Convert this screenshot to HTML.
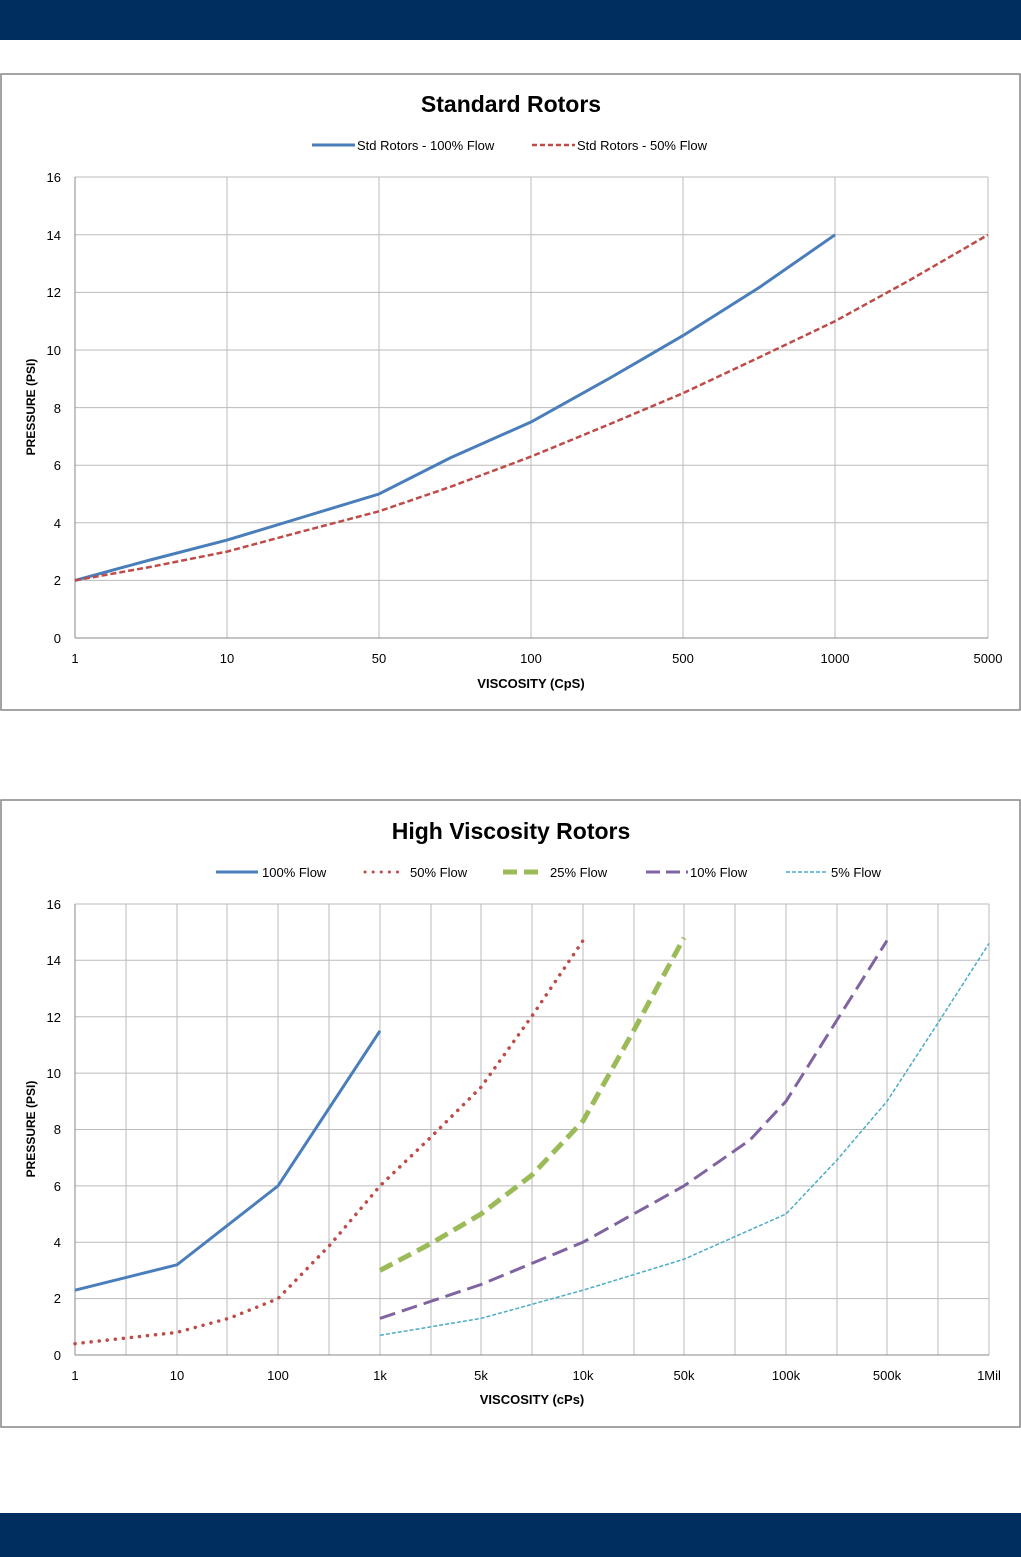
<!DOCTYPE html><html><head><style>body{margin:0;background:#fff}svg{display:block;font-family:"Liberation Sans",sans-serif}</style></head><body>
<svg width="1021" height="1557" viewBox="0 0 1021 1557" xmlns="http://www.w3.org/2000/svg">
<rect x="0" y="0" width="1021" height="40" fill="#002f5f"/>
<rect x="0" y="1513" width="1021" height="44" fill="#002f5f"/>
<rect x="1" y="74" width="1019" height="636" fill="#fff" stroke="#868686" stroke-width="1.5"/>
<rect x="1" y="800" width="1019" height="627" fill="#fff" stroke="#868686" stroke-width="1.5"/>
<g font-size="13" fill="#000">
<text x="511" y="112" text-anchor="middle" font-size="23" font-weight="bold">Standard Rotors</text>
<line x1="312" y1="145" x2="355" y2="145" stroke="#4a7ebb" stroke-width="3"/><text x="357" y="150">Std Rotors - 100% Flow</text>
<line x1="532" y1="145" x2="575" y2="145" stroke="#be4b48" stroke-width="2.5" stroke-dasharray="5,3"/><text x="577" y="150">Std Rotors - 50% Flow</text>
<g stroke="#bbb" stroke-width="1">
<line x1="75" y1="580.4" x2="988" y2="580.4"/><line x1="75" y1="522.8" x2="988" y2="522.8"/><line x1="75" y1="465.2" x2="988" y2="465.2"/><line x1="75" y1="407.6" x2="988" y2="407.6"/><line x1="75" y1="350" x2="988" y2="350"/><line x1="75" y1="292.4" x2="988" y2="292.4"/><line x1="75" y1="234.8" x2="988" y2="234.8"/><line x1="75" y1="177" x2="988" y2="177"/>
<line x1="227" y1="177" x2="227" y2="638"/><line x1="379" y1="177" x2="379" y2="638"/><line x1="531" y1="177" x2="531" y2="638"/><line x1="683" y1="177" x2="683" y2="638"/><line x1="835" y1="177" x2="835" y2="638"/><line x1="988" y1="177" x2="988" y2="638"/>
</g>
<line x1="75" y1="177" x2="75" y2="638" stroke="#888"/><line x1="75" y1="638" x2="988" y2="638" stroke="#888"/>
<g text-anchor="end"><text x="61" y="643">0</text><text x="61" y="585">2</text><text x="61" y="528">4</text><text x="61" y="470">6</text><text x="61" y="413">8</text><text x="61" y="355">10</text><text x="61" y="297">12</text><text x="61" y="240">14</text><text x="61" y="182">16</text></g>
<g text-anchor="middle"><text x="75" y="663">1</text><text x="227" y="663">10</text><text x="379" y="663">50</text><text x="531" y="663">100</text><text x="683" y="663">500</text><text x="835" y="663">1000</text><text x="988" y="663">5000</text>
<text x="531" y="688" font-weight="bold">VISCOSITY (CpS)</text>
<text transform="translate(35,407) rotate(-90)" font-weight="bold" font-size="12">PRESSURE (PSI)</text></g>
<polyline fill="none" stroke="#4a7ebb" stroke-width="3" points="75,580.4 150,560 227,540.1 300,518 379,494 450,458 531,422 610,378 683,335.6 760,287 835,234.8"/>
<polyline fill="none" stroke="#be4b48" stroke-width="2.5" stroke-dasharray="6,3" points="75,580.4 150,567 227,551.6 300,532 379,511.3 450,487 531,456.6 610,424 683,393.2 760,357 835,321.2 910,280 988,234.8"/>

<text x="511" y="839" text-anchor="middle" font-size="23" font-weight="bold">High Viscosity Rotors</text>
<line x1="216" y1="872" x2="258" y2="872" stroke="#4a7ebb" stroke-width="3"/><text x="262" y="877">100% Flow</text>
<line x1="365" y1="872" x2="405" y2="872" stroke="#be4b48" stroke-width="3" stroke-dasharray="0.1,8" stroke-linecap="round"/><text x="410" y="877">50% Flow</text>
<line x1="503" y1="872" x2="545" y2="872" stroke="#9bbb59" stroke-width="5" stroke-dasharray="14,7"/><text x="550" y="877">25% Flow</text>
<line x1="646" y1="872" x2="688" y2="872" stroke="#8064a2" stroke-width="3" stroke-dasharray="14,6"/><text x="690" y="877">10% Flow</text>
<line x1="786" y1="872" x2="828" y2="872" stroke="#4bacc6" stroke-width="1.5" stroke-dasharray="4,2"/><text x="831" y="877">5% Flow</text>
<g stroke="#bbb" stroke-width="1" id="vg"></g>
<g stroke="#bbb">
<line x1="75" y1="1298.6" x2="989" y2="1298.6"/><line x1="75" y1="1242.2" x2="989" y2="1242.2"/><line x1="75" y1="1185.9" x2="989" y2="1185.9"/><line x1="75" y1="1129.5" x2="989" y2="1129.5"/><line x1="75" y1="1073.1" x2="989" y2="1073.1"/><line x1="75" y1="1016.7" x2="989" y2="1016.7"/><line x1="75" y1="960.3" x2="989" y2="960.3"/><line x1="75" y1="904" x2="989" y2="904"/>
<line x1="126" y1="904" x2="126" y2="1355"/><line x1="177" y1="904" x2="177" y2="1355"/><line x1="227" y1="904" x2="227" y2="1355"/><line x1="278" y1="904" x2="278" y2="1355"/><line x1="329" y1="904" x2="329" y2="1355"/><line x1="380" y1="904" x2="380" y2="1355"/><line x1="431" y1="904" x2="431" y2="1355"/><line x1="481" y1="904" x2="481" y2="1355"/><line x1="532" y1="904" x2="532" y2="1355"/><line x1="583" y1="904" x2="583" y2="1355"/><line x1="634" y1="904" x2="634" y2="1355"/><line x1="684" y1="904" x2="684" y2="1355"/><line x1="735" y1="904" x2="735" y2="1355"/><line x1="786" y1="904" x2="786" y2="1355"/><line x1="837" y1="904" x2="837" y2="1355"/><line x1="887" y1="904" x2="887" y2="1355"/><line x1="938" y1="904" x2="938" y2="1355"/><line x1="989" y1="904" x2="989" y2="1355"/>
</g>
<line x1="75" y1="904" x2="75" y2="1355" stroke="#888"/><line x1="75" y1="1355" x2="989" y2="1355" stroke="#888"/>
<g text-anchor="end"><text x="61" y="1360">0</text><text x="61" y="1303">2</text><text x="61" y="1247">4</text><text x="61" y="1191">6</text><text x="61" y="1134">8</text><text x="61" y="1078">10</text><text x="61" y="1022">12</text><text x="61" y="965">14</text><text x="61" y="909">16</text></g>
<g text-anchor="middle"><text x="75" y="1380">1</text><text x="177" y="1380">10</text><text x="278" y="1380">100</text><text x="380" y="1380">1k</text><text x="481" y="1380">5k</text><text x="583" y="1380">10k</text><text x="684" y="1380">50k</text><text x="786" y="1380">100k</text><text x="887" y="1380">500k</text><text x="989" y="1380">1Mil</text>
<text x="532" y="1404" font-weight="bold">VISCOSITY (cPs)</text>
<text transform="translate(35,1129) rotate(-90)" font-weight="bold" font-size="12">PRESSURE (PSI)</text></g>
<polyline fill="none" stroke="#4a7ebb" stroke-width="3" points="75,1290.2 177,1264.8 278,1185.9 380,1030.8"/>
<polyline fill="none" stroke="#be4b48" stroke-width="3.5" stroke-dasharray="0.1,8" stroke-linecap="round" points="75,1343.7 177,1332.4 230,1318 278,1298.6 330,1245 380,1185.9 430,1138 481,1087.2 532,1016 583,940.6"/>
<polyline fill="none" stroke="#9bbb59" stroke-width="5" stroke-dasharray="14,7" points="380,1270.4 430,1244 481,1214 532,1175 583,1121 634,1030 684,937.8"/>
<polyline fill="none" stroke="#8064a2" stroke-width="3" stroke-dasharray="16,7" points="380,1318.4 481,1284.5 583,1242.2 684,1185.9 750,1140 786,1101.3 837,1020 887,940.6"/>
<polyline fill="none" stroke="#4bacc6" stroke-width="1.5" stroke-dasharray="4,2" points="380,1335.3 481,1318.4 583,1290.2 684,1259.2 786,1214 837,1160 887,1101.3 938,1023 989,943.4"/>
</g>
</svg>
</body></html>
